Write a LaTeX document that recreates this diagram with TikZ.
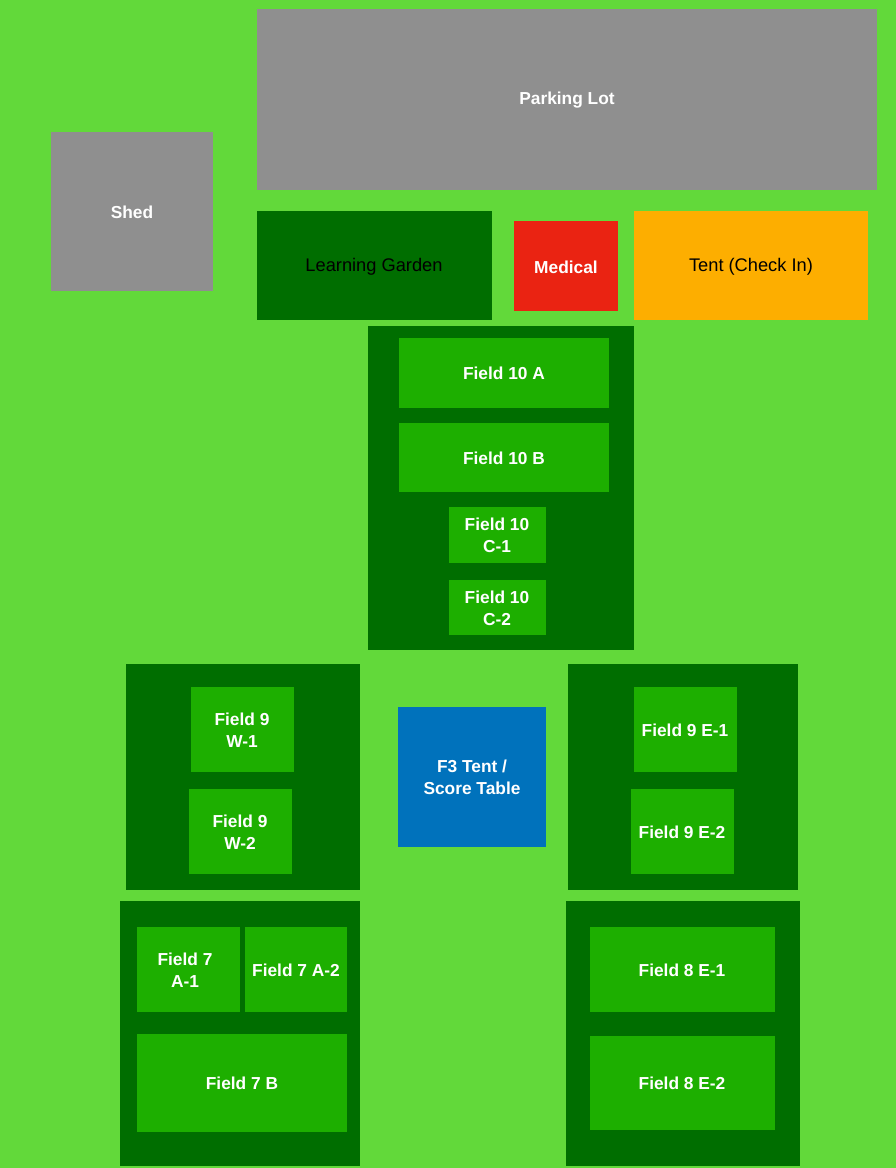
\documentclass[tikz,border=0pt]{standalone}
\usepackage{fontspec}
\setmainfont{Liberation Sans}

\definecolor{grass}{RGB}{98,217,58}
\definecolor{lotgray}{RGB}{143,143,143}
\definecolor{darkfield}{RGB}{0,110,0}
\definecolor{field}{RGB}{29,175,0}
\definecolor{medred}{RGB}{234,35,18}
\definecolor{tentorange}{RGB}{253,174,0}
\definecolor{tentblue}{RGB}{0,114,188}

\begin{document}
\begin{tikzpicture}[x = 0.75pt, y = -0.75pt,
	lab/.style = {text = white, font = \fontsize{13}{16.5}\selectfont\bfseries, align = center, inner sep = 0pt},
	darklab/.style = {text = black, font = \fontsize{13.7}{16.5}\selectfont, align = center, inner sep = 0pt}]
	\useasboundingbox (0,0) rectangle (896,1168);
	\fill[grass] (0,0) rectangle (896,1168);

	% top row
	\fill[lotgray] (257,9) rectangle (877,190);
	\node[lab] (park) at (567,100) {Parking Lot};
	\fill[lotgray] (51,132) rectangle (213,291);
	\node[lab] (shed) at (132,212) {Shed};
	\fill[darkfield] (257,211) rectangle (492,320);
	\node[darklab] (garden) at (374,267) {Learning Garden};
	\fill[medred] (514,221) rectangle (618,311);
	\node[lab] (medical) at (566,267) {Medical};
	\fill[tentorange] (634,211) rectangle (868,320);
	\node[darklab] (checkin) at (751,267) {Tent (Check In)};

	% field 10
	\fill[darkfield] (368,326) rectangle (634,650);
	\fill[field] (399,338) rectangle (609,408);
	\node[lab] (f10a) at (504,373) {Field 10 A};
	\fill[field] (399,423) rectangle (609,492);
	\node[lab] (f10b) at (504,458) {Field 10 B};
	\fill[field] (449,507) rectangle (546,563);
	\node[lab] (f10c1) at (497,535) {Field 10\\C-1};
	\fill[field] (449,580) rectangle (546,635);
	\node[lab] (f10c2) at (497,608) {Field 10\\C-2};

	% field 9 west
	\fill[darkfield] (126,664) rectangle (360,890);
	\fill[field] (191,687) rectangle (294,772);
	\node[lab] (f9w1) at (242,730) {Field 9\\W-1};
	\fill[field] (189,789) rectangle (292,874);
	\node[lab] (f9w2) at (240,832) {Field 9\\W-2};

	% score table
	\fill[tentblue] (398,707) rectangle (546,847);
	\node[lab] (f3tent) at (472,777) {F3 Tent /\\Score Table};

	% field 9 east
	\fill[darkfield] (568,664) rectangle (798,890);
	\fill[field] (634,687) rectangle (737,772);
	\node[lab] (f9e1) at (685,730) {Field 9 E-1};
	\fill[field] (631,789) rectangle (734,874);
	\node[lab] (f9e2) at (682,832) {Field 9 E-2};

	% field 7
	\fill[darkfield] (120,901) rectangle (360,1166);
	\fill[field] (137,927) rectangle (240,1012);
	\node[lab] (f7a1) at (185,970) {Field 7\\A-1};
	\fill[field] (245,927) rectangle (347,1012);
	\node[lab] (f7a2) at (296,970) {Field 7 A-2};
	\fill[field] (137,1034) rectangle (347,1132);
	\node[lab] (f7b) at (242,1083) {Field 7 B};

	% field 8
	\fill[darkfield] (566,901) rectangle (800,1166);
	\fill[field] (590,927) rectangle (775,1012);
	\node[lab] (f8e1) at (682,970) {Field 8 E-1};
	\fill[field] (590,1036) rectangle (775,1130);
	\node[lab] (f8e2) at (682,1083) {Field 8 E-2};
\end{tikzpicture}
\end{document}
